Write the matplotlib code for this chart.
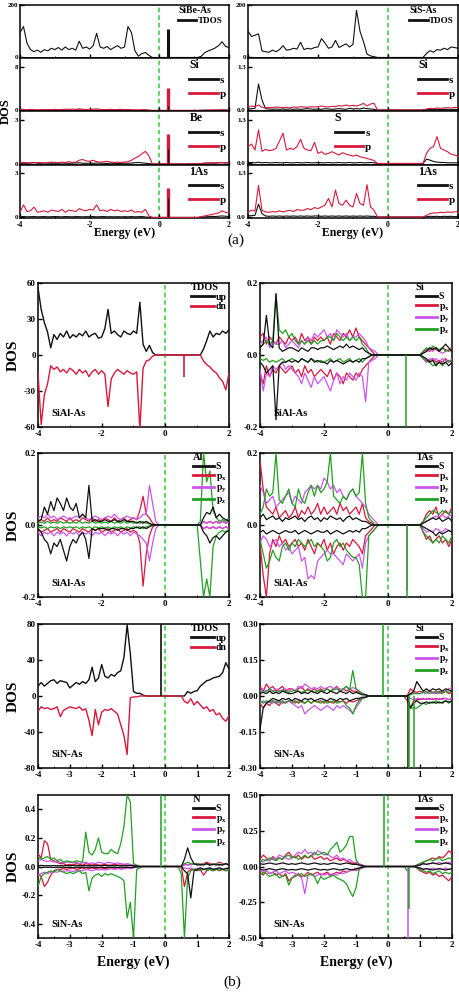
import numpy as np
import matplotlib
matplotlib.use("Agg")
import matplotlib.pyplot as plt
from matplotlib.lines import Line2D
from matplotlib.ticker import MultipleLocator, FormatStrFormatter

plt.rcParams.update({
    'font.family': ['Liberation Serif', 'DejaVu Serif'],
    'font.weight': 'bold',
    'axes.labelweight': 'bold',
    'axes.unicode_minus': False,
    'mathtext.fontset': 'custom',
    'mathtext.rm': 'Liberation Serif:bold',
    'mathtext.it': 'Liberation Serif:bold',
    'mathtext.bf': 'Liberation Serif:bold',
    'axes.linewidth': 1.1,
    'xtick.direction': 'in', 'ytick.direction': 'in',
    'xtick.major.size': 3, 'ytick.major.size': 3,
    'xtick.minor.size': 1.8, 'ytick.minor.size': 1.8,
    'xtick.major.width': 1, 'ytick.major.width': 1,
})

# ---------------- energy grid (eV) ----------------
E = np.round(np.linspace(-4.0, 2.0, 61), 2)

# ================= (a) SiBe-As =================
a_sibe_tdos = [
    95, 118, 55, 30, 22, 28, 20, 30, 25, 35,
    30, 38, 28, 40, 30, 35, 28, 62, 35, 40,
    32, 45, 92, 40, 35, 42, 30, 38, 45, 35,
    40, 118, 95, 25, 5, 15, 19, 8, 0, 0,
    0, 0, 0, 0, 0, 0, 0, 0, 0, 0,
    0, 0, 4, 18, 25, 30, 36, 45, 60, 42, 38]
a_sibe_si_s = [
    .05, .08, .04, .06, .05, .04, .06, .05, .04, .06,
    .05, .04, .06, .05, .07, .05, .04, .08, .05, .06,
    .05, .07, .06, .05, .04, .06, .05, .04, .06, .05,
    .04, .06, .05, .04, .03, .04, .03, .01, 0, 0,
    0, 0, 0, 0, 0, 0, 0, 0, 0, 0,
    0, 0, .02, .03, .04, .03, .05, .04, .06, .05, .04]
a_sibe_si_p = [
    .15, .2, .12, .18, .15, .1, .14, .12, .18, .15,
    .2, .15, .18, .22, .2, .25, .2, .3, .22, .18,
    .2, .25, .28, .2, .15, .18, .2, .15, .18, .2,
    .15, .18, .12, .1, .08, .12, .15, .05, 0, 0,
    0, 0, 0, 0, 0, 0, 0, 0, 0, 0,
    0, 0, .03, .05, .06, .08, .07, .1, .12, .1, .08]
a_sibe_be_s = [
    .03, .05, .04, .06, .1, .05, .04, .06, .05, .04,
    .05, .04, .06, .05, .04, .05, .06, .08, .05, .04,
    .05, .04, .06, .05, .04, .03, .05, .04, .03, .04,
    .05, .04, .06, .08, .1, .07, .05, .02, 0, 0,
    0, 0, 0, 0, 0, 0, 0, 0, 0, 0,
    0, 0, .02, .04, .05, .06, .05, .07, .08, .06, .07]
a_sibe_be_p = [
    .08, .1, .08, .06, .07, .1, .08, .06, .1, .12,
    .1, .08, .12, .1, .15, .1, .12, .25, .3, .2,
    .18, .25, .15, .12, .15, .18, .12, .1, .12, .1,
    .12, .15, .25, .4, .5, .7, .85, .55, 0, 0,
    0, 0, 0, 0, 0, 0, 0, 0, 0, 0,
    0, 0, .03, .05, .06, .08, .07, .09, .1, .08, .09]
a_sibe_as_s = [
    .05, .06, .04, .05, .06, .04, .05, .06, .04, .05,
    .06, .05, .04, .06, .05, .04, .06, .05, .04, .05,
    .05, .06, .04, .05, .06, .04, .05, .04, .05, .04,
    .05, .04, .06, .04, .05, .06, .03, .01, 0, 0,
    0, 0, 0, 0, 0, 0, 0, 0, 0, 0,
    0, 0, .02, .04, .05, .07, .06, .08, .1, .08, .06]
a_sibe_as_p = [
    .35, .85, .4, .45, .7, .35, .4, .45, .35, .5,
    .45, .4, .55, .35, .5, .45, .4, .6, .5, .45,
    .55, .5, .85, .45, .5, .4, .55, .45, .5, .4,
    .45, .4, .5, .35, .4, .35, .55, .1, 0, 0,
    0, 0, 0, 0, 0, 0, 0, 0, 0, 0,
    0, 0, .05, .1, .15, .2, .25, .3, .45, .35, .3]
# impurity state peak at 0.25 eV (heights)
a_sibe_peak_E = 0.25
a_sibe_peak = {'tdos': 110, 'si_s': 0.8, 'si_p': 4.1, 'be_s': 1.0, 'be_p': 2.05,
               'as_s': 1.3, 'as_p': 2.0}

# ================= (a) SiS-As =================
a_sis_tdos = [
    100, 80, 85, 90, 25, 22, 20, 28, 22, 30,
    45, 28, 30, 35, 32, 58, 30, 35, 32, 38,
    40, 72, 55, 35, 40, 65, 38, 45, 52, 40,
    50, 180, 100, 60, 13, 6, 3, 0, 0, 0,
    0, 0, 0, 0, 0, 0, 0, 0, 0, 0,
    0, 15, 26, 20, 30, 28, 35, 30, 40, 38, 35]
a_sis_si_s = [
    .03, .04, .05, .78, .3, .04, .03, .02, .03, .02,
    .03, .02, .03, .02, .03, .02, .03, .04, .03, .02,
    .03, .02, .04, .03, .02, .03, .04, .03, .02, .05,
    .03, .04, .03, .06, .04, .03, .02, 0, 0, 0,
    0, 0, 0, 0, 0, 0, 0, 0, 0, 0,
    0, .01, .02, .01, .02, .01, .02, .015, .01, .02, .01]
a_sis_si_p = [
    .08, .12, .1, .15, .08, .06, .08, .07, .09, .08,
    .07, .08, .06, .09, .08, .1, .09, .08, .1, .09,
    .1, .12, .1, .09, .11, .1, .13, .12, .15, .12,
    .14, .12, .15, .2, .12, .18, .2, 0, 0, 0,
    0, 0, 0, 0, 0, 0, 0, 0, 0, 0,
    0, .03, .05, .04, .06, .05, .06, .07, .06, .08, .07]
a_sis_s_s = [
    .02, .03, .02, .04, .02, .03, .02, .02, .03, .02,
    .02, .03, .02, .02, .03, .02, .02, .03, .02, .02,
    .03, .02, .02, .03, .02, .02, .03, .02, .02, .03,
    .02, .02, .03, .02, .02, .03, .02, 0, 0, 0,
    0, 0, 0, 0, 0, 0, 0, 0, 0, 0,
    0, .13, .1, .06, .04, .03, .03, .02, .02, .02, .02]
a_sis_s_p = [
    .5, .58, .4, 1.0, .36, .42, .38, .4, .45, .67,
    .9, .4, .45, .42, .5, .72, .45, .4, .38, .63,
    .3, .35, .27, .3, .35, .3, .25, .32, .28, .25,
    .22, .25, .2, .18, .15, .12, .09, 0, 0, 0,
    0, 0, 0, 0, 0, 0, 0, 0, 0, 0,
    0, .3, .45, .5, .8, .45, .4, .35, .28, .25, .22]
a_sis_as_s = [
    .03, .04, .05, .38, .1, .03, .02, .03, .02, .03,
    .02, .03, .02, .03, .02, .03, .02, .03, .02, .03,
    .03, .02, .03, .02, .03, .02, .03, .02, .03, .02,
    .03, .02, .03, .02, .03, .02, .02, 0, 0, 0,
    0, 0, 0, 0, 0, 0, 0, 0, 0, 0,
    0, .01, .02, .015, .02, .01, .02, .015, .02, .01, .02]
a_sis_as_p = [
    .15, .2, .18, .94, .2, .15, .14, .16, .15, .18,
    .15, .18, .2, .16, .22, .2, .2, .25, .22, .28,
    .25, .3, .35, .55, .3, .8, .4, .35, .5, .35,
    .3, .7, .4, .35, .96, .3, .2, 0, 0, 0,
    0, 0, 0, 0, 0, 0, 0, 0, 0, 0,
    0, .05, .1, .12, .12, .14, .13, .15, .14, .15, .16]

# ================= (b) SiAl-As TDOS =================
sial_tdos_up = [
    56, 38, 27, 19, 6, 17, 13, 18, 15, 20,
    14, 17, 15, 18, 16, 20, 15, 17, 18, 14,
    15, 22, 38, 18, 20, 17, 15, 20, 18, 17,
    20, 18, 44, 9, 3, 8, 2, 0, 0, 0,
    0, 0, 0, 0, 0, 0, 0, 0, 0, 0,
    0, 0, 5, 12, 20, 15, 18, 17, 20, 18, 21]
sial_tdos_dn = [
    -15, -58, -33, -24, -9, -12, -10, -14, -12, -15,
    -11, -13, -16, -12, -15, -13, -18, -14, -12, -16,
    -13, -16, -43, -20, -15, -12, -14, -16, -13, -15,
    -16, -14, -62, -11, -5, -4, -1, 0, 0, 0,
    0, 0, 0, 0, 0, 0, 0, 0, 0, 0,
    0, 0, -5, -8, -10, -13, -15, -19, -22, -29, -15]
sial_tdos_spikes = [('dn', 0.6, -18)]

# ================= (b) Si in SiAl-As =================
sial_si_s_up = [
    .02, .03, .11, .03, .02, .17, .02, .01, .015, .02,
    .02, .015, .01, .02, .015, .01, .02, .02, .015, .02,
    .02, .025, .02, .015, .02, .025, .02, .03, .02, .025,
    .02, .015, .02, .01, .005, 0, 0, 0, 0, 0,
    0, 0, 0, 0, 0, 0, 0, 0, 0, 0,
    0, .005, .01, .02, .015, .02, .01, .02, .03, .02, .01]
sial_si_s_dn = [
    -.02, -.03, -.05, -.04, -.03, -.18, -.03, -.02, -.02, -.015,
    -.02, -.015, -.02, -.01, -.015, -.02, -.01, -.02, -.015, -.02,
    -.02, -.025, -.015, -.02, -.015, -.02, -.025, -.02, -.015, -.02,
    -.015, -.02, -.01, -.01, -.005, 0, 0, 0, 0, 0,
    0, 0, 0, 0, 0, 0, 0, 0, 0, 0,
    0, -.005, -.01, -.02, -.015, -.03, -.02, -.025, -.02, -.03, -.02]
sial_si_px_up = [
    .05, .06, .03, .05, .04, .03, .05, .04, .03, .05,
    .04, .05, .03, .06, .04, .05, .03, .05, .04, .05,
    .04, .05, .03, .06, .05, .04, .06, .05, .07, .05,
    .075, .05, .04, .03, .02, .01, 0, 0, 0, 0,
    0, 0, 0, 0, 0, 0, 0, 0, 0, 0,
    0, .01, .015, .01, .02, .015, .01, .02, .015, .01, .02]
sial_si_px_dn = [
    -.05, -.08, -.03, -.06, -.04, -.05, -.03, -.04, -.05, -.04,
    -.03, -.05, -.04, -.06, -.03, -.05, -.04, -.06, -.05, -.04,
    -.05, -.06, -.04, -.07, -.05, -.06, -.08, -.05, -.06, -.07,
    -.05, -.06, -.04, -.03, -.02, -.01, 0, 0, 0, 0,
    0, 0, 0, 0, 0, 0, 0, 0, 0, 0,
    0, -.01, -.02, -.015, -.01, -.02, -.015, -.02, -.01, -.02, -.015]
sial_si_py_up = [
    .03, .04, .05, .02, .04, .03, .03, .04, .02, .03,
    .04, .03, .02, .04, .03, .05, .04, .06, .05, .06,
    .07, .05, .06, .04, .07, .06, .05, .06, .04, .05,
    .05, .06, .05, .04, .02, .015, .01, 0, 0, 0,
    0, 0, 0, 0, 0, 0, 0, 0, 0, 0,
    0, .005, .01, .015, .01, .02, .01, .005, .01, .015, .01]
sial_si_py_dn = [
    -.04, -.1, -.05, -.06, -.03, -.04, -.03, -.02, -.04, -.03,
    -.04, -.05, -.06, -.08, -.05, -.07, -.09, -.06, -.08, -.07,
    -.06, -.08, -.1, -.07, -.05, -.08, -.06, -.07, -.05, -.06,
    -.07, -.05, -.06, -.13, -.02, -.015, -.01, 0, 0, 0,
    0, 0, 0, 0, 0, 0, 0, 0, 0, 0,
    0, -.005, -.02, -.01, -.015, -.01, -.02, -.01, -.015, -.02, -.01]
sial_si_pz_up = [
    .02, .03, .04, .03, .04, .17, .07, .06, .07, .05,
    .06, .04, .03, .04, .03, .04, .03, .04, .03, .04,
    .04, .05, .05, .04, .06, .05, .04, .05, .04, .05,
    .04, .05, .03, .02, .005, 0, 0, 0, 0, 0,
    0, 0, 0, 0, 0, 0, 0, 0, 0, 0,
    0, .01, .02, .015, .025, .02, .015, .02, .01, .015, .01]
sial_si_pz_dn = [
    -.01, -.015, -.01, -.02, -.015, -.02, -.015, -.01, -.02, -.015,
    -.01, -.015, -.02, -.01, -.015, -.02, -.01, -.015, -.02, -.015,
    -.02, -.015, -.01, -.02, -.015, -.01, -.02, -.015, -.01, -.02,
    -.015, -.01, -.02, -.01, -.005, 0, 0, 0, 0, 0,
    0, 0, 0, 0, 0, 0, 0, 0, 0, 0,
    0, -.01, -.015, -.02, -.03, -.025, -.02, -.03, -.02, -.015, -.02]
sial_si_spikes = [('pz', 0.56, -0.2)]

# ================= (b) Al in SiAl-As =================
sial_al_s_up = [
    .01, .015, .05, .03, .065, .04, .075, .06, .04, .075,
    .05, .04, .06, .02, .03, .02, .11, .01, .015, .01,
    .01, .015, .01, .01, .015, .01, .01, .015, .01, .01,
    .01, .005, .01, .005, .01, .005, 0, 0, 0, 0,
    0, 0, 0, 0, 0, 0, 0, 0, 0, 0,
    0, 0, .02, .035, .03, .05, .02, .03, .02, .015, .01]
sial_al_s_dn = [
    -.01, -.02, -.04, -.05, -.08, -.05, -.06, -.04, -.07, -.1,
    -.06, -.04, -.05, -.03, -.02, -.04, -.093, -.01, -.015, -.01,
    -.01, -.01, -.015, -.01, -.01, -.015, -.01, -.01, -.015, -.01,
    -.01, -.005, -.01, -.005, -.01, -.005, 0, 0, 0, 0,
    0, 0, 0, 0, 0, 0, 0, 0, 0, 0,
    0, 0, -.02, -.03, -.05, -.035, -.03, -.04, -.03, -.02, -.015]
sial_al_px_up = [
    .01, .015, .01, .02, .01, .015, .01, .02, .015, .01,
    .02, .01, .015, .01, .02, .015, .01, .02, .01, .015,
    .01, .02, .015, .01, .02, .01, .015, .02, .01, .015,
    .02, .015, .04, .08, .03, .02, .005, 0, 0, 0,
    0, 0, 0, 0, 0, 0, 0, 0, 0, 0,
    0, 0, .01, .005, .01, .005, .01, .005, .01, .005, .01]
sial_al_px_dn = [
    -.01, -.02, -.015, -.01, -.02, -.015, -.01, -.02, -.01, -.015,
    -.02, -.01, -.015, -.02, -.01, -.015, -.02, -.01, -.015, -.01,
    -.02, -.015, -.01, -.02, -.015, -.01, -.02, -.015, -.01, -.02,
    -.015, -.02, -.05, -.17, -.08, -.03, -.005, 0, 0, 0,
    0, 0, 0, 0, 0, 0, 0, 0, 0, 0,
    0, 0, -.01, -.005, -.01, -.005, -.01, -.005, -.01, -.005, -.01]
sial_al_py_up = [
    .02, .025, .02, .03, .02, .025, .015, .02, .025, .02,
    .015, .02, .025, .02, .03, .02, .015, .02, .025, .02,
    .015, .02, .025, .02, .03, .02, .015, .02, .025, .02,
    .02, .015, .02, .03, .03, .11, .06, .01, 0, 0,
    0, 0, 0, 0, 0, 0, 0, 0, 0, 0,
    0, 0, .01, .005, .01, .005, .01, .005, .01, .005, .01]
sial_al_py_dn = [
    -.02, -.03, -.02, -.025, -.02, -.03, -.02, -.025, -.02, -.03,
    -.02, -.025, -.02, -.03, -.02, -.025, -.02, -.03, -.02, -.025,
    -.02, -.03, -.02, -.025, -.02, -.03, -.02, -.025, -.02, -.03,
    -.02, -.025, -.03, -.04, -.05, -.1, -.05, -.01, 0, 0,
    0, 0, 0, 0, 0, 0, 0, 0, 0, 0,
    0, 0, -.01, -.005, -.01, -.005, -.01, -.005, -.01, -.005, -.01]
sial_al_pz_up = [
    .005, .008, .005, .01, .005, .008, .005, .01, .005, .008,
    .005, .008, .005, .01, .005, .008, .005, .01, .005, .008,
    .005, .008, .005, .01, .005, .008, .005, .01, .005, .008,
    .005, .008, .005, .01, .005, .003, 0, 0, 0, 0,
    0, 0, 0, 0, 0, 0, 0, 0, 0, 0,
    0, .01, .2, .12, .15, .04, .02, .01, .015, .01, .02]
sial_al_pz_dn = [
    -.005, -.008, -.005, -.01, -.005, -.008, -.005, -.01, -.005, -.008,
    -.005, -.008, -.005, -.01, -.005, -.008, -.005, -.01, -.005, -.008,
    -.005, -.008, -.005, -.01, -.005, -.008, -.005, -.01, -.005, -.008,
    -.005, -.008, -.005, -.01, -.005, -.003, 0, 0, 0, 0,
    0, 0, 0, 0, 0, 0, 0, 0, 0, 0,
    0, -.1, -.2, -.15, -.2, -.06, -.03, -.02, -.015, -.02, -.01]
sial_al_spikes = []

# ================= (b) 1As in SiAl-As =================
sial_as_s_up = [
    .02, .03, .015, .02, .025, .015, .02, .01, .02, .015,
    .02, .025, .015, .02, .01, .02, .025, .015, .02, .01,
    .02, .015, .025, .02, .015, .02, .01, .02, .025, .015,
    .02, .015, .01, .01, .005, 0, 0, 0, 0, 0,
    0, 0, 0, 0, 0, 0, 0, 0, 0, 0,
    0, .005, .01, .015, .02, .015, .02, .01, .015, .02, .01]
sial_as_s_dn = [
    -.02, -.015, -.025, -.02, -.015, -.02, -.025, -.02, -.015, -.02,
    -.02, -.015, -.025, -.02, -.015, -.02, -.025, -.02, -.015, -.02,
    -.02, -.015, -.025, -.02, -.015, -.02, -.025, -.02, -.015, -.02,
    -.015, -.02, -.01, -.01, -.005, 0, 0, 0, 0, 0,
    0, 0, 0, 0, 0, 0, 0, 0, 0, 0,
    0, -.005, -.01, -.015, -.02, -.03, -.02, -.025, -.02, -.015, -.02]
sial_as_px_up = [
    .18, .1, .05, .04, .03, .05, .02, .03, .04, .02,
    .03, .05, .02, .04, .03, .05, .03, .04, .06, .03,
    .05, .03, .04, .05, .03, .06, .04, .05, .03, .04,
    .05, .03, .06, .02, .01, .005, 0, 0, 0, 0,
    0, 0, 0, 0, 0, 0, 0, 0, 0, 0,
    0, .01, .03, .04, .03, .05, .02, .03, .04, .03, .05]
sial_as_px_dn = [
    -.05, -.14, -.2, -.08, -.04, -.06, -.03, -.05, -.04, -.06,
    -.05, -.04, -.06, -.05, -.07, -.04, -.06, -.08, -.05, -.06,
    -.04, -.07, -.05, -.08, -.06, -.05, -.07, -.05, -.06, -.04,
    -.05, -.06, -.08, -.03, -.02, -.01, 0, 0, 0, 0,
    0, 0, 0, 0, 0, 0, 0, 0, 0, 0,
    0, -.02, -.04, -.03, -.05, -.04, -.03, -.05, -.04, -.06, -.04]
sial_as_py_up = [
    .11, .09, .06, .07, .08, .05, .06, .07, .08, .09,
    .06, .08, .07, .06, .09, .1, .11, .1, .11, .1,
    .13, .12, .1, .11, .09, .1, .08, .07, .09, .1,
    .08, .07, .06, .05, .03, .02, .01, 0, 0, 0,
    0, 0, 0, 0, 0, 0, 0, 0, 0, 0,
    0, .005, .01, .015, .02, .025, .02, .03, .02, .025, .03]
sial_as_py_dn = [
    -.05, -.03, -.04, -.06, -.05, -.04, -.06, -.05, -.07, -.06,
    -.08, -.07, -.06, -.1, -.09, -.15, -.14, -.15, -.1, -.09,
    -.08, -.07, -.08, -.08, -.09, -.1, -.11, -.08, -.09, -.1,
    -.09, -.08, -.12, -.05, -.03, -.02, -.01, 0, 0, 0,
    0, 0, 0, 0, 0, 0, 0, 0, 0, 0,
    0, -.01, -.02, -.015, -.02, -.01, -.015, -.02, -.01, -.015, -.02]
sial_as_pz_up = [
    .03, .05, .1, .08, .09, .2, .07, .06, .08, .1,
    .06, .05, .1, .07, .06, .09, .11, .08, .11, .09,
    .1, .12, .2, .08, .07, .06, .08, .07, .09, .1,
    .08, .09, .2, .06, .02, .01, 0, 0, 0, 0,
    0, 0, 0, 0, 0, 0, 0, 0, 0, 0,
    0, .01, .02, .03, .04, .035, .03, .04, .035, .03, .04]
sial_as_pz_dn = [
    -.04, -.08, -.12, -.1, -.07, -.09, -.1, -.06, -.05, -.07,
    -.05, -.06, -.04, -.05, -.06, -.05, -.04, -.06, -.05, -.06,
    -.07, -.1, -.09, -.05, -.04, -.06, -.05, -.07, -.08, -.09,
    -.09, -.11, -.2, -.2, -.03, -.02, -.01, 0, 0, 0,
    0, 0, 0, 0, 0, 0, 0, 0, 0, 0,
    0, -.02, -.03, -.04, -.05, -.04, -.05, -.03, -.04, -.05, -.03]
sial_as_spikes = [('py', 0.6, -0.18), ('pz', 0.6, -0.2)]

# ================= (b) SiN-As TDOS =================
sin_tdos_up = [
    11, 15, 11, 14, 17, 18, 14, 17, 16, 15,
    9, 12, 15, 13, 16, 14, 18, 32, 16, 20,
    35, 22, 20, 24, 22, 26, 28, 43, 79, 47,
    5, 3, 3, 1, 0, 0, 0, 0, 0, 0,
    0, 0, 0, 0, 0, 0, 0, 5, 3, 5,
    6, 11, 14, 17, 18, 20, 21, 22, 26, 37, 30]
sin_tdos_dn = [
    -17, -12, -14, -13, -15, -14, -12, -23, -16, -14,
    -12, -13, -14, -12, -16, -14, -27, -44, -15, -32,
    -18, -15, -16, -14, -17, -20, -32, -44, -65, -2,
    -1, -1, 0, 0, 0, 0, 0, 0, 0, 0,
    0, 0, 0, 0, 0, 0, -6, -8, -3, -10,
    -6, -10, -14, -12, -17, -15, -21, -19, -25, -28, -22]
sin_tdos_spikes = [('up', -0.15, 80)]

# ================= (b) Si in SiN-As =================
sin_si_s_up = [
    .01, .015, .01, .02, .01, .015, .01, .02, .015, .01,
    .01, .015, .02, .01, .015, .01, .02, .015, .01, .02,
    .015, .01, .02, .015, .01, .02, .015, .01, .02, .01,
    .015, .01, .005, .005, 0, 0, 0, 0, 0, 0,
    0, 0, 0, 0, 0, 0, 0, .01, .02, .06,
    .04, .02, .03, .02, .03, .025, .03, .02, .03, .025, .02]
sin_si_s_dn = [
    -.14, -.05, -.03, -.02, -.01, -.015, -.02, -.01, -.015, -.01,
    -.02, -.01, -.015, -.02, -.01, -.015, -.01, -.02, -.015, -.01,
    -.015, -.02, -.01, -.015, -.02, -.01, -.015, -.01, -.02, -.015,
    -.01, -.01, -.005, -.005, 0, 0, 0, 0, 0, 0,
    0, 0, 0, 0, 0, 0, 0, -.05, -.03, -.02,
    -.03, -.03, -.025, -.03, -.025, -.03, -.025, -.03, -.02, -.025, -.02]
sin_si_px_up = [
    .04, .02, .05, .03, .04, .02, .03, .04, .02, .03,
    .03, .02, .03, .04, .02, .03, .02, .03, .02, .03,
    .02, .03, .02, .03, .04, .02, .03, .02, .03, .02,
    .02, .015, .01, .005, 0, 0, 0, 0, 0, 0,
    0, 0, 0, 0, 0, 0, 0, .03, .02, .015,
    .02, .015, .01, .02, .015, .01, .02, .015, .02, .01, .015]
sin_si_px_dn = [
    -.03, -.05, -.03, -.04, -.02, -.03, -.04, -.02, -.03, -.02,
    -.03, -.02, -.03, -.02, -.03, -.02, -.03, -.02, -.025, -.02,
    -.03, -.02, -.025, -.03, -.02, -.025, -.02, -.03, -.02, -.025,
    -.02, -.015, -.01, -.005, 0, 0, 0, 0, 0, 0,
    0, 0, 0, 0, 0, 0, -.02, -.05, -.02, -.015,
    -.015, -.01, -.015, -.01, -.015, -.01, -.015, -.01, -.01, -.015, -.01]
sin_si_py_up = [
    .02, .03, .02, .025, .02, .03, .02, .025, .03, .02,
    .03, .02, .04, .03, .05, .04, .03, .035, .03, .04,
    .03, .035, .04, .03, .035, .03, .025, .04, .03, .035,
    .03, .02, .01, .005, 0, 0, 0, 0, 0, 0,
    0, 0, 0, 0, 0, 0, 0, .01, .015, .01,
    .01, .015, .01, .02, .01, .015, .01, .015, .02, .03, .035]
sin_si_py_dn = [
    -.03, -.02, -.03, -.025, -.03, -.02, -.03, -.025, -.03, -.02,
    -.03, -.04, -.05, -.04, -.075, -.06, -.05, -.04, -.05, -.06,
    -.05, -.04, -.05, -.06, -.04, -.05, -.04, -.05, -.06, -.07,
    -.05, -.03, -.01, -.005, 0, 0, 0, 0, 0, 0,
    0, 0, 0, 0, 0, 0, 0, -.01, -.015, -.01,
    -.01, -.015, -.01, -.015, -.01, -.015, -.01, -.015, -.01, -.015, -.01]
sin_si_pz_up = [
    .02, .015, .02, .03, .02, .015, .02, .025, .02, .015,
    .02, .025, .02, .015, .02, .025, .02, .015, .02, .025,
    .02, .03, .02, .025, .03, .02, .03, .04, .025, .106,
    .03, .02, .01, .005, 0, 0, 0, 0, 0, 0,
    0, 0, 0, 0, 0, 0, 0, .005, .01, .01,
    .01, .015, .02, .01, .015, .02, .015, .01, .02, .015, .02]
sin_si_pz_dn = [
    -.02, -.03, -.02, -.025, -.02, -.03, -.02, -.03, -.025, -.02,
    -.02, -.03, -.02, -.025, -.03, -.02, -.03, -.02, -.025, -.03,
    -.02, -.03, -.025, -.02, -.03, -.025, -.02, -.04, -.05, -.075,
    -.04, -.02, -.01, -.005, 0, 0, 0, 0, 0, 0,
    0, 0, 0, 0, 0, 0, 0, -.05, -.05, -.05,
    -.04, -.03, -.035, -.025, -.03, -.02, -.03, -.025, -.02, -.03, -.02]
sin_si_spikes = [('pz', -0.15, 0.3), ('s', 0.61, -0.3),
                 ('pz', 0.67, -0.3), ('pz', 0.81, -0.3)]

# ================= (b) N in SiN-As =================
sin_n_s_up = [
    .005, .008, .005, .006, .005, .007, .005, .006, .005, .007,
    .005, .008, .005, .006, .005, .007, .005, .006, .005, .007,
    .005, .008, .005, .006, .005, .007, .005, .006, .005, .007,
    .005, .003, 0, 0, 0, 0, 0, 0, 0, 0,
    0, 0, 0, 0, 0, 0, .05, .13, .06, .02,
    .01, .015, .01, .02, .01, .015, .01, .015, .01, .02, .01]
sin_n_s_dn = [
    -.005, -.008, -.005, -.006, -.005, -.007, -.005, -.006, -.005, -.007,
    -.005, -.008, -.005, -.006, -.005, -.007, -.005, -.006, -.005, -.007,
    -.005, -.008, -.005, -.006, -.005, -.007, -.005, -.006, -.005, -.007,
    -.005, -.003, 0, 0, 0, 0, 0, 0, 0, 0,
    0, 0, 0, 0, 0, 0, -.03, -.05, -.22, -.03,
    -.02, -.01, -.02, -.015, -.01, -.02, -.015, -.01, -.02, -.015, -.01]
sin_n_px_up = [
    .09, .06, .18, .16, .05, .04, .03, .02, .02, .01,
    .015, .01, .02, .015, .01, .02, .015, .01, .015, .01,
    .01, .015, .01, .01, .015, .01, .01, .015, .01, .01,
    .005, 0, 0, 0, 0, 0, 0, 0, 0, 0,
    0, 0, 0, 0, 0, 0, .02, .01, .02, .015,
    .02, .015, .02, .03, .02, .015, .02, .03, .02, .015, .02]
sin_n_px_dn = [
    -.05, -.07, -.14, -.11, -.06, -.03, -.02, -.02, -.015, -.02,
    -.015, -.01, -.02, -.015, -.01, -.02, -.015, -.01, -.015, -.01,
    -.01, -.015, -.01, -.01, -.015, -.01, -.01, -.015, -.01, -.01,
    -.005, 0, 0, 0, 0, 0, 0, 0, 0, 0,
    0, 0, 0, 0, 0, 0, -.14, -.04, -.02, -.02,
    -.03, -.02, -.06, -.03, -.02, -.03, -.02, -.03, -.02, -.03, -.02]
sin_n_py_up = [
    .04, .05, .04, .035, .04, .03, .035, .03, .025, .03,
    .03, .025, .03, .02, .025, .03, .02, .025, .02, .03,
    .025, .02, .03, .025, .02, .025, .02, .015, .02, .015,
    .01, .005, 0, 0, 0, 0, 0, 0, 0, 0,
    0, 0, 0, 0, 0, 0, .01, .015, .01, .02,
    .015, .01, .02, .015, .01, .02, .015, .01, .02, .015, .01]
sin_n_py_dn = [
    -.06, -.05, -.04, -.05, -.04, -.035, -.04, -.03, -.035, -.03,
    -.03, -.035, -.03, -.025, -.03, -.02, -.025, -.03, -.02, -.025,
    -.02, -.025, -.02, -.015, -.02, -.015, -.02, -.015, -.01, -.015,
    -.01, -.005, 0, 0, 0, 0, 0, 0, 0, 0,
    0, 0, 0, 0, 0, 0, -.01, -.015, -.01, -.02,
    -.015, -.01, -.02, -.015, -.01, -.02, -.015, -.01, -.02, -.015, -.01]
sin_n_pz_up = [
    .07, .05, .06, .07, .05, .06, .04, .05, .03, .04,
    .035, .03, .04, .035, .03, .24, .1, .08, .12, .2,
    .1, .09, .09, .12, .1, .09, .16, .28, .5, .45,
    .02, .01, 0, 0, 0, 0, 0, 0, 0, 0,
    0, 0, 0, 0, 0, 0, .02, .03, .02, .015,
    .02, .01, .015, .02, .01, .015, .02, .01, .015, .02, .01]
sin_n_pz_dn = [
    -.14, -.07, -.05, -.04, -.03, -.04, -.02, -.03, -.04, -.05,
    -.04, -.05, -.04, -.03, -.05, -.04, -.17, -.08, -.06, -.05,
    -.07, -.05, -.06, -.05, -.06, -.07, -.08, -.1, -.36, -.25,
    -.5, -.02, -.01, 0, 0, 0, 0, 0, 0, 0,
    0, 0, 0, 0, 0, -.05, -.5, -.08, -.03, -.02,
    -.02, -.03, -.02, -.025, -.02, -.03, -.02, -.025, -.02, -.03, -.02]
sin_n_spikes = [('pz', -0.15, 0.5)]

# ================= (b) 1As in SiN-As =================
sin_as_s_up = [
    .02, .015, .02, .025, .02, .015, .02, .025, .02, .015,
    .02, .015, .02, .025, .02, .015, .02, .025, .02, .015,
    .02, .015, .02, .025, .02, .015, .02, .025, .02, .015,
    .015, .01, .005, 0, 0, 0, 0, 0, 0, 0,
    0, 0, 0, 0, 0, 0, 0, 0, 0, .005,
    .01, .02, .015, .02, .025, .02, .015, .02, .025, .02, .015]
sin_as_s_dn = [
    -.02, -.025, -.02, -.015, -.02, -.025, -.02, -.015, -.02, -.025,
    -.02, -.025, -.02, -.015, -.02, -.025, -.02, -.015, -.02, -.025,
    -.02, -.025, -.02, -.015, -.02, -.025, -.02, -.015, -.02, -.025,
    -.015, -.01, -.005, 0, 0, 0, 0, 0, 0, 0,
    0, 0, 0, 0, 0, 0, 0, 0, 0, -.005,
    -.01, -.02, -.015, -.02, -.025, -.02, -.015, -.02, -.025, -.02, -.015]
sin_as_px_up = [
    .05, .08, .06, .04, .07, .05, .06, .05, .08, .1,
    .07, .06, .08, .05, .07, .06, .08, .05, .06, .07,
    .05, .06, .04, .05, .06, .04, .05, .04, .03, .02,
    .02, .015, .01, 0, 0, 0, 0, 0, 0, 0,
    0, 0, 0, 0, 0, 0, 0, 0, 0, .01,
    .02, .03, .04, .05, .06, .05, .07, .06, .08, .11, .09]
sin_as_px_dn = [
    -.04, -.06, -.03, -.05, -.04, -.06, -.05, -.07, -.05, -.1,
    -.08, -.06, -.05, -.07, -.06, -.04, -.06, -.05, -.04, -.06,
    -.05, -.04, -.06, -.05, -.04, -.05, -.03, -.04, -.03, -.02,
    -.02, -.015, -.01, 0, 0, 0, 0, 0, 0, 0,
    0, 0, 0, 0, 0, 0, 0, 0, 0, -.01,
    -.03, -.04, -.05, -.04, -.06, -.05, -.07, -.06, -.08, -.1, -.07]
sin_as_py_up = [
    .04, .03, .05, .04, .06, .05, .08, .07, .06, .05,
    .06, .08, .1, .09, .12, .09, .1, .08, .11, .1,
    .08, .09, .07, .06, .08, .05, .06, .04, .05, .03,
    .03, .02, .01, 0, 0, 0, 0, 0, 0, 0,
    0, 0, 0, 0, 0, 0, 0, 0, 0, .005,
    .01, .02, .015, .02, .025, .02, .03, .02, .025, .03, .02]
sin_as_py_dn = [
    -.03, -.04, -.03, -.05, -.04, -.03, -.05, -.04, -.03, -.05,
    -.04, -.05, -.06, -.08, -.19, -.06, -.05, -.07, -.06, -.05,
    -.06, -.05, -.07, -.05, -.06, -.04, -.05, -.04, -.03, -.02,
    -.03, -.02, -.01, 0, 0, 0, 0, 0, 0, 0,
    0, 0, 0, 0, 0, 0, 0, 0, 0, -.005,
    -.01, -.02, -.015, -.02, -.01, -.02, -.015, -.02, -.01, -.02, -.015]
sin_as_pz_up = [
    .03, .05, .04, .06, .05, .04, .06, .05, .07, .08,
    .06, .07, .05, .06, .08, .06, .07, .1, .08, .09,
    .1, .08, .12, .14, .17, .1, .12, .15, .21, .21,
    .05, .01, 0, 0, 0, 0, 0, 0, 0, 0,
    0, 0, 0, 0, 0, 0, 0, 0, 0, .01,
    .02, .03, .04, .05, .04, .05, .06, .04, .05, .06, .05]
sin_as_pz_dn = [
    -.06, -.04, -.05, -.07, -.06, -.05, -.08, -.07, -.06, -.13,
    -.08, -.07, -.06, -.05, -.07, -.06, -.05, -.07, -.12, -.07,
    -.09, -.08, -.07, -.06, -.08, -.09, -.1, -.12, -.17, -.21,
    -.15, -.02, 0, 0, 0, 0, 0, 0, 0, 0,
    0, 0, 0, 0, 0, 0, -.03, 0, 0, -.01,
    -.02, -.03, -.04, -.03, -.05, -.04, -.03, -.05, -.04, -.05, -.04]
sin_as_spikes = [('pz', -0.14, 0.5), ('py', 0.63, -0.5), ('pz', 0.66, -0.3)]

# ---------------- styling ----------------
COL = {'s': '#111111', 'px': '#d8183c', 'py': '#cc55ee', 'pz': '#22a022',
       'up': '#111111', 'dn': '#d8183c'}
ZERO_COL = '#33cc33'
W, H = 459.0, 992.0


def rect(x0, x1, y0, y1):
    return [x0 / W, 1 - y1 / H, (x1 - x0) / W, (y1 - y0) / H]


def zero_line(ax):
    ax.axvline(0, color=ZERO_COL, lw=1.1, ls=(0, (3, 2)), zorder=1)


def setup_x(ax, major, labels, fs):
    ax.set_xlim(-4, 2)
    ax.xaxis.set_major_locator(MultipleLocator(major))
    ax.xaxis.set_minor_locator(MultipleLocator(0.5))
    ax.tick_params(axis='x', which='both', labelbottom=labels, labelsize=fs, pad=2)
    ax.tick_params(axis='y', labelsize=fs, pad=1.5)


def legend(ax, title, labels, colors, loc, bbox, fs, tfs, spacing=0.15, hl=2.0):
    handles = [Line2D([], [], color=c, lw=2.0) for c in colors]
    leg = ax.legend(handles, labels, title=title, loc=loc, bbox_to_anchor=bbox,
                    frameon=False, fontsize=fs, title_fontsize=tfs,
                    handlelength=hl, handletextpad=0.15, labelspacing=spacing,
                    borderpad=0.1, borderaxespad=0.15)
    leg._legend_box.align = 'left'
    leg.get_title().set_fontweight('bold')
    return leg


fig = plt.figure(figsize=(W / 100, H / 100), dpi=100)

# ================= part (a) =================
a_rows = [(5, 58), (58, 111), (111, 164.5), (164.5, 218)]
a_cols = [(20, 229), (248, 458)]

left_data = [
    ('tdos', [(a_sibe_tdos, COL['s'])], 'SiBe-As', None),
    ('Si', [(a_sibe_si_s, COL['s']), (a_sibe_si_p, COL['px'])], 'Si', ('si_s', 'si_p')),
    ('Be', [(a_sibe_be_s, COL['s']), (a_sibe_be_p, COL['px'])], 'Be', ('be_s', 'be_p')),
    ('As', [(a_sibe_as_s, COL['s']), (a_sibe_as_p, COL['px'])], '1As', ('as_s', 'as_p')),
]
right_data = [
    ('tdos', [(a_sis_tdos, COL['s'])], 'SiS-As', None),
    ('Si', [(a_sis_si_s, COL['s']), (a_sis_si_p, COL['px'])], 'Si', None),
    ('S', [(a_sis_s_s, COL['s']), (a_sis_s_p, COL['px'])], 'S', None),
    ('As', [(a_sis_as_s, COL['s']), (a_sis_as_p, COL['px'])], '1As', None),
]
left_ylims = [((-2, 200), [0, 200], '%d'), ((-0.1, 9.6), [0, 8], '%d'),
              ((-0.04, 3.6), [0, 3], '%d'), ((-0.04, 3.6), [0, 3], '%d')]
right_ylims = [((-2, 200), [0, 200], '%d'), ((-0.03, 1.56), [0, 1.3], '%.1f'),
               ((-0.03, 1.56), [0, 1.3], '%.1f'), ((-0.03, 1.56), [0, 1.3], '%.1f')]

for ci, (col, data, ylims) in enumerate([(a_cols[0], left_data, left_ylims),
                                         (a_cols[1], right_data, right_ylims)]):
    for ri, (row, d, yl) in enumerate(zip(a_rows, data, ylims)):
        ax = fig.add_axes(rect(col[0], col[1], row[0], row[1]))
        zero_line(ax)
        for vals, c in d[1]:
            ax.plot(E, vals, color=c, lw=0.8, zorder=3)
        if ci == 0:
            if d[3] is None:
                ax.vlines(a_sibe_peak_E, 0, a_sibe_peak['tdos'], color=COL['s'], lw=2.2, zorder=4)
            else:
                ax.vlines(a_sibe_peak_E, 0, a_sibe_peak[d[3][1]], color=COL['px'], lw=2.4, zorder=4)
                ax.vlines(a_sibe_peak_E, 0, a_sibe_peak[d[3][0]], color=COL['s'], lw=0.9, zorder=5)
        ax.set_ylim(yl[0])
        ax.set_yticks(yl[1])
        ax.yaxis.set_major_formatter(FormatStrFormatter(yl[2]))
        setup_x(ax, 2, ri == 3, 5.5)
        ax.tick_params(axis='y', labelsize=5)
        ax.xaxis.set_minor_locator(MultipleLocator(1))
        if ri == 3:
            ax.set_xticks([-4, -2, 0, 2])
        if d[0] == 'tdos':
            legend(ax, d[2], ['TDOS'], [COL['s']], 'upper right',
                   (0.99 if ci == 1 else 0.98, 1.02), 6.5, 7)
        else:
            bbox = (0.5, 1.03) if d[0] == 'S' else (1.0, 1.03)
            loc = 'upper center' if d[0] == 'S' else 'upper right'
            legend(ax, d[2], ['s', 'p'], [COL['s'], COL['px']], loc, bbox, 8, 8.5,
                   spacing=0.35, hl=2.6)
    fig.text((col[0] + col[1]) / 2 / W, 1 - 233 / H, 'Energy (eV)', ha='center',
             va='center', fontsize=8.5, fontweight='bold')

fig.text(6 / W, 1 - 111 / H, 'DOS', rotation=90, ha='center', va='center',
         fontsize=9, fontweight='bold')
fig.text(236 / W, 1 - 240 / H, '(a)', ha='center', va='center', fontsize=11,
         fontweight='normal')

# ================= part (b) =================
b_rows = [(283, 427), (453, 597), (624, 768), (795, 938)]
b_cols = [(38, 229), (260, 452)]


def tdos_panel(ax, up, dn, spikes, ylim, yticks, name):
    zero_line(ax)
    ax.plot(E, up, color=COL['up'], lw=1.0, zorder=3)
    ax.plot(E, dn, color=COL['dn'], lw=1.0, zorder=3)
    for key, e, h in spikes:
        ax.vlines(e, 0, h, color=COL[key], lw=1.2, zorder=4)
    ax.set_ylim(ylim)
    ax.set_yticks(yticks)
    legend(ax, 'TDOS', ['up', 'dn'], [COL['up'], COL['dn']], 'upper right',
           (1.0, 1.02), 7, 7.5, spacing=0.1, hl=2.4)
    ax.text(0.07, 0.06, name, transform=ax.transAxes, fontsize=7.5,
            fontweight='bold', ha='left', va='bottom')


def pdos_panel(ax, ser, spikes, ylim, yticks, yfmt, elem, name):
    zero_line(ax)
    for key in ['px', 'py', 'pz', 's']:
        up, dn = ser[key]
        ax.plot(E, up, color=COL[key], lw=0.9, zorder=3)
        ax.plot(E, dn, color=COL[key], lw=0.9, zorder=3)
    for key, e, h in spikes:
        ax.vlines(e, 0, h, color=COL[key], lw=1.1, zorder=4)
    ax.set_ylim(ylim)
    ax.set_yticks(yticks)
    ax.yaxis.set_major_formatter(FormatStrFormatter(yfmt))
    legend(ax, elem, ['S', 'p$_x$', 'p$_y$', 'p$_z$'],
           [COL['s'], COL['px'], COL['py'], COL['pz']], 'upper right',
           (1.0, 1.02), 7, 7.5, spacing=0.05, hl=2.2)
    ax.text(0.07, 0.06, name, transform=ax.transAxes, fontsize=7.5,
            fontweight='bold', ha='left', va='bottom')


def ser(s_up, s_dn, px_up, px_dn, py_up, py_dn, pz_up, pz_dn):
    return {'s': (s_up, s_dn), 'px': (px_up, px_dn), 'py': (py_up, py_dn), 'pz': (pz_up, pz_dn)}


axs = {}
for ri, row in enumerate(b_rows):
    for ci, col in enumerate(b_cols):
        axs[(ri, ci)] = fig.add_axes(rect(col[0], col[1], row[0], row[1]))

tdos_panel(axs[(0, 0)], sial_tdos_up, sial_tdos_dn, sial_tdos_spikes,
           (-60, 60), [-60, -30, 0, 30, 60], 'SiAl-As')
pdos_panel(axs[(0, 1)], ser(sial_si_s_up, sial_si_s_dn, sial_si_px_up, sial_si_px_dn,
                            sial_si_py_up, sial_si_py_dn, sial_si_pz_up, sial_si_pz_dn),
           sial_si_spikes, (-0.2, 0.2), [-0.2, 0, 0.2], '%.1f', 'Si', 'SiAl-As')
pdos_panel(axs[(1, 0)], ser(sial_al_s_up, sial_al_s_dn, sial_al_px_up, sial_al_px_dn,
                            sial_al_py_up, sial_al_py_dn, sial_al_pz_up, sial_al_pz_dn),
           sial_al_spikes, (-0.2, 0.2), [-0.2, 0, 0.2], '%.1f', 'Al', 'SiAl-As')
pdos_panel(axs[(1, 1)], ser(sial_as_s_up, sial_as_s_dn, sial_as_px_up, sial_as_px_dn,
                            sial_as_py_up, sial_as_py_dn, sial_as_pz_up, sial_as_pz_dn),
           sial_as_spikes, (-0.2, 0.2), [-0.2, 0, 0.2], '%.1f', '1As', 'SiAl-As')
tdos_panel(axs[(2, 0)], sin_tdos_up, sin_tdos_dn, sin_tdos_spikes,
           (-80, 80), [-80, -40, 0, 40, 80], 'SiN-As')
pdos_panel(axs[(2, 1)], ser(sin_si_s_up, sin_si_s_dn, sin_si_px_up, sin_si_px_dn,
                            sin_si_py_up, sin_si_py_dn, sin_si_pz_up, sin_si_pz_dn),
           sin_si_spikes, (-0.3, 0.3), [-0.3, -0.15, 0, 0.15, 0.3], '%.2f', 'Si', 'SiN-As')
pdos_panel(axs[(3, 0)], ser(sin_n_s_up, sin_n_s_dn, sin_n_px_up, sin_n_px_dn,
                            sin_n_py_up, sin_n_py_dn, sin_n_pz_up, sin_n_pz_dn),
           sin_n_spikes, (-0.5, 0.5), [-0.4, -0.2, 0, 0.2, 0.4], '%.1f', 'N', 'SiN-As')
pdos_panel(axs[(3, 1)], ser(sin_as_s_up, sin_as_s_dn, sin_as_px_up, sin_as_px_dn,
                            sin_as_py_up, sin_as_py_dn, sin_as_pz_up, sin_as_pz_dn),
           sin_as_spikes, (-0.5, 0.5), [-0.5, -0.25, 0, 0.25, 0.5], '%.2f', '1As', 'SiN-As')

for (ri, ci), ax in axs.items():
    setup_x(ax, 2 if ri < 2 else 1, True, 6.5)
    if ri < 2:
        ax.xaxis.set_minor_locator(MultipleLocator(1))
    if ci == 0:
        row = b_rows[ri]
        fig.text(13 / W, 1 - (row[0] + row[1]) / 2 / H, 'DOS', rotation=90,
                 ha='center', va='center', fontsize=11, fontweight='bold')

for col in b_cols:
    fig.text((col[0] + col[1]) / 2 / W, 1 - 962 / H, 'Energy (eV)', ha='center',
             va='center', fontsize=10, fontweight='bold')
fig.text(232 / W, 1 - 982 / H, '(b)', ha='center', va='center', fontsize=11,
         fontweight='normal')

fig.savefig('out.png', dpi=100)
